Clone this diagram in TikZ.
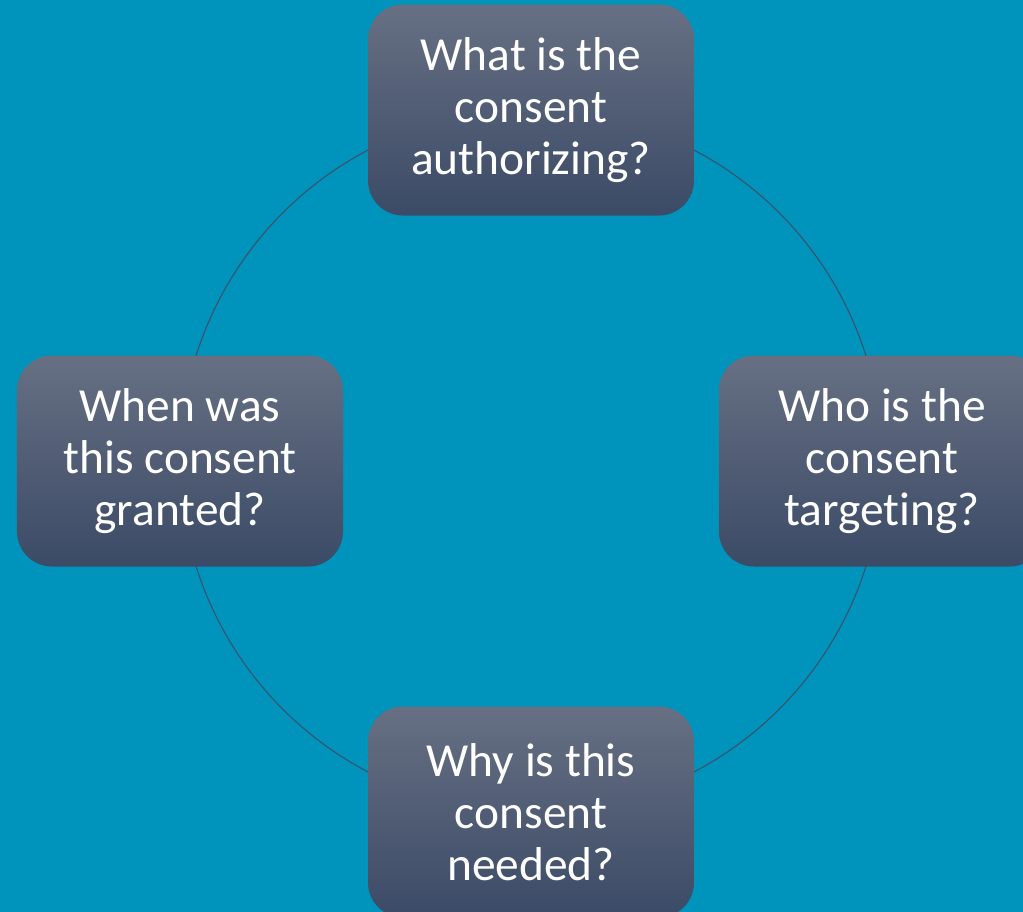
\documentclass[tikz,border=0pt]{standalone}
\usepackage{fontspec}
\setmainfont{Carlito}[Ligatures=NoCommon]
\definecolor{bgblue}{HTML}{0093BC}
\definecolor{boxtop}{HTML}{677083}
\definecolor{boxbot}{HTML}{3B4A66}
\definecolor{ringline}{HTML}{3E5068}
\tikzset{
  question/.style={rounded corners=0.7cm, top color=boxtop, bottom color=boxbot,
    minimum width=6.52cm, minimum height=4.22cm, inner sep=0pt,
    align=center, text=white, font=\fontsize{27}{29.5}\selectfont}
}
\begin{document}
\begin{tikzpicture}
            \fill[bgblue] (0,0) rectangle (20.46,-18.24);
            \useasboundingbox (0,0) rectangle (20.46,-18.24);
            \clip (0,0) rectangle (20.46,-18.24);
            \coordinate (hub) at (10.62,-9.22);
            \draw[ringline, line width=0.6pt] (hub) circle (7.02cm);
            \node[question] (what) at ([yshift=7.02cm]hub) {What is the\\consent\\authorizing?};
            \node[question] (who) at ([xshift=7.02cm]hub) {Who is the\\consent\\targeting?};
            \node[question] (why) at ([yshift=-7.02cm]hub) {Why is this\\consent\\needed?};
            \node[question] (when) at ([xshift=-7.02cm]hub) {When was\\this consent\\granted?};
        \end{tikzpicture}
\end{document}
